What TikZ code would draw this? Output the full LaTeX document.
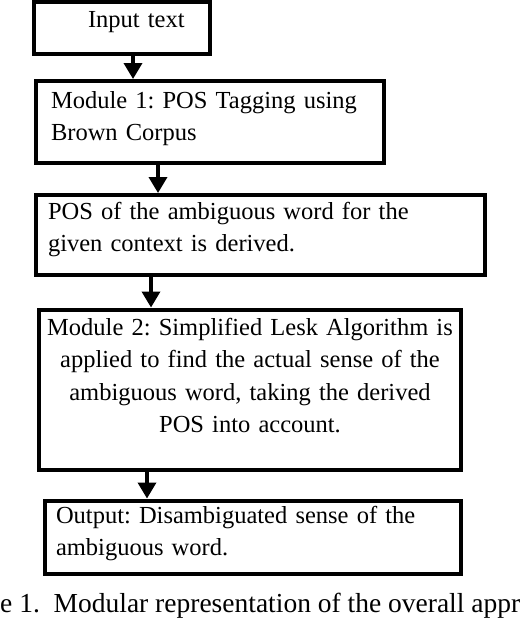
\documentclass[tikz,border=0pt]{standalone}
\usepackage{fontspec}
\setmainfont{Liberation Serif}
\usetikzlibrary{arrows.meta}
\frenchspacing
\hyphenpenalty=10000
\exhyphenpenalty=10000

\begin{document}
\begin{tikzpicture}[x=1pt, y=-1pt,
  modbox/.style={draw, rectangle, line width=4pt, inner xsep=12pt, inner ysep=0pt, align=left, font=\fontsize{24.5}{32.5}\selectfont},
  flow/.style={line width=3.5pt, -{Triangle[width=18pt,length=16pt]}}]
\useasboundingbox (0,0) rectangle (522,624);

% Input box
\node[modbox, text width=152pt, text height=25pt, text depth=27pt] (input) at (122,28) {\hspace*{42pt}Input text};
% Module 1
\node[modbox, inner xsep=15pt, text width=318pt, text height=27pt, text depth=55pt] (mod1) at (210,122) {Module 1: POS Tagging using\\Brown Corpus};
% POS result
\node[modbox, text width=425pt, text height=24pt, text depth=56pt] (pos) at (260.5,235) {POS of the ambiguous word for the\\given context is derived.};
% Module 2
\node[modbox, align=center, inner xsep=0pt, text width=422pt, text height=25.5pt, text depth=135pt] (mod2) at (250,389.75) {Module 2: Simplified Lesk Algorithm is\\applied to find the actual sense of the\\ambiguous word, taking the derived\\POS into account.};
% Output box
\node[modbox, inner xsep=11pt, text width=394pt, text height=22.5pt, text depth=51pt] (output) at (253,537.25) {Output: Disambiguated sense of the\\ambiguous word.};

% Arrows
\draw[flow] (133,0 |- input.south) -- (133,0 |- mod1.north);
\draw[flow] (158,0 |- mod1.south) -- (158,0 |- pos.north);
\draw[flow] (151,0 |- pos.south) -- (151,0 |- mod2.north);
\draw[flow] (147,0 |- mod2.south) -- (147,0 |- output.north);

% Caption
\node[anchor=base west, inner sep=0pt, font=\fontsize{27.5}{30}\selectfont] (caption) at (0,612) {e 1.\ \ Modular representation of the overall appr};
\end{tikzpicture}
\end{document}
